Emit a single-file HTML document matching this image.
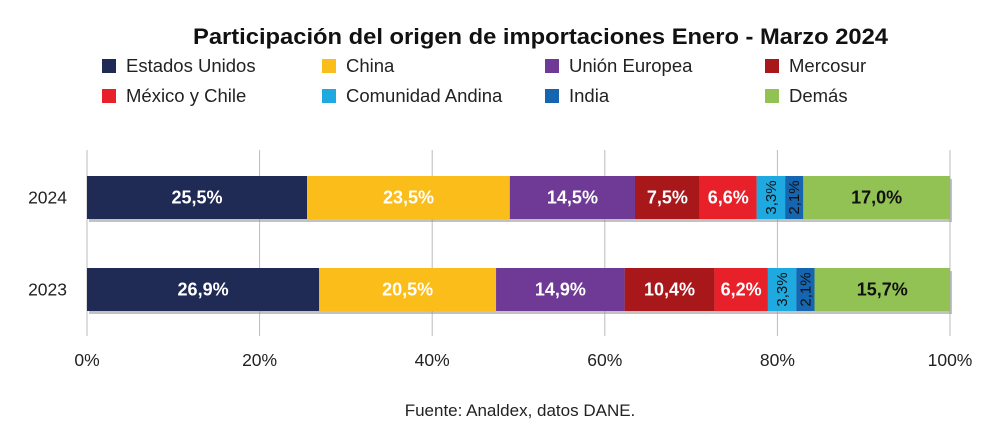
<!DOCTYPE html>
<html><head><meta charset="utf-8"><style>
body{margin:0;background:#fff;font-family:"Liberation Sans","DejaVu Sans",sans-serif;}
</style></head><body>
<svg id="c" width="996" height="425" xmlns="http://www.w3.org/2000/svg">
<text x="193" y="44" textLength="695" lengthAdjust="spacingAndGlyphs" font-size="22" font-weight="bold" fill="#111">Participación del origen de importaciones Enero - Marzo 2024</text>
<g id="legend"></g>
<g id="grid"></g>
<g id="bars"></g>
<text x="520" y="416" text-anchor="middle" font-size="17" fill="#222">Fuente: Analdex, datos DANE.</text>
</svg>
<script>
const categories=["2024","2023"];
const seriesNames=["Estados Unidos","China","Unión Europea","Mercosur","México y Chile","Comunidad Andina","India","Demás"];
const values2024=[25.5,23.5,14.5,7.5,6.6,3.3,2.1,17.0];
const values2023=[26.9,20.5,14.9,10.4,6.2,3.3,2.1,15.7];
const ticks=[0,20,40,60,80,100];
const colors=["#1f2a55","#fbbd19","#6e3a96","#a8171a","#e8202a","#1ea9e1","#1565b0","#92c254"];
const textColors=["#fff","#fff","#fff","#fff","#fff","#111","#111","#111"];
const NS="http://www.w3.org/2000/svg";
const x0=87,x1=950;
const xs=v=>x0+(x1-x0)*v/100;
const rowY=[176,268],bh=43;
function mk(t,a,p){const e=document.createElementNS(NS,t);for(const k in a)e.setAttribute(k,a[k]);p.appendChild(e);return e;}
const L=document.getElementById('legend');
seriesNames.forEach((n,i)=>{
 const lx=[110,330,553,773][i%4],ly=[66,96][Math.floor(i/4)];
 const r=mk('rect',{x:lx-8,y:ly-7,width:14,height:14,fill:colors[i]},L);
 
 
 const t=mk('text',{x:lx+16,y:ly+6,'font-size':18.5,fill:'#222'},L);t.textContent=n;
 
 
});
const G=document.getElementById('grid');
ticks.forEach(v=>{
 const l=mk('line',{x1:xs(v),x2:xs(v),y1:150,y2:336,stroke:'#bbb','stroke-width':1},G);
 
 
 const t=mk('text',{x:xs(v),y:366,'text-anchor':'middle','font-size':17.5,fill:'#222'},G);t.textContent=v+'%';
 
 
});
const B=document.getElementById('bars');
[values2024,values2023].forEach((vals,r)=>{
 const y=rowY[r];
 const cl=mk('text',{x:67,y:y+bh/2+6,'text-anchor':'end','font-size':17.5,fill:'#222'},B);cl.textContent=categories[r];
 
 
 const sh=mk('rect',{x:xs(0)+2,y:y+3,width:xs(100)-xs(0),height:bh,fill:'#999',opacity:0.6},B);
 
 
 let acc=0;
 vals.forEach((v,i)=>{
  const xa=xs(acc),xb=xs(acc+v);acc+=v;
  const b=mk('rect',{x:xa,y:y,width:xb-xa,height:bh,fill:colors[i]},B);
  
  
  const lab=v.toFixed(1).replace('.',',')+'%';
  const cx=(xa+xb)/2,cy=y+bh/2;
  let t;
  if(v<5){t=mk('text',{x:cx,y:cy,'text-anchor':'middle','font-size':15,fill:textColors[i],transform:`rotate(-90 ${cx} ${cy})`,dy:5},B);}
  else{t=mk('text',{x:cx,y:cy+6,'text-anchor':'middle','font-size':18,'font-weight':'bold',fill:textColors[i]},B);}
  t.textContent=lab;
  
  
 });
});
</script>
</body></html>
